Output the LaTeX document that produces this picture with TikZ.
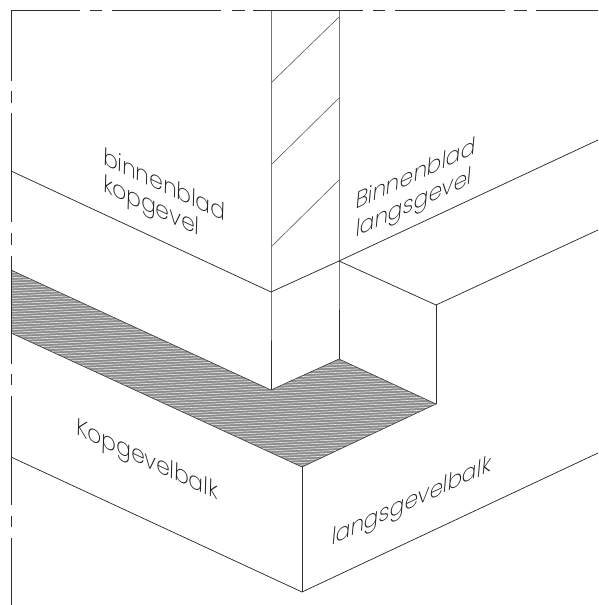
\documentclass[tikz,border=0pt]{standalone}
\usepackage{fontspec}
\setmainfont{Poppins ExtraLight}
\definecolor{ink}{gray}{0.18}
\definecolor{txt}{gray}{0.12}
\tikzset{
  edge/.style={draw=ink,line width=0.75pt},
  wallhatch/.style={draw=ink!75,line width=0.65pt},
  fine/.style={draw=ink,line width=0.55pt},
  lbl/.style={text=txt,inner sep=0pt,font=\fontsize{24}{26}\selectfont,anchor=base west},
  down/.style={lbl,cm={0.906,-0.423,0.03,1,(0,0)}},
  up/.style={lbl,cm={0.906,0.423,0.09,1,(0,0)}}
}
\begin{document}
\begin{tikzpicture}[x=1pt,y=-1pt]
\useasboundingbox (0,0) rectangle (598,605);
\fill[white] (0,0) rectangle (598,605);
% corner points
\coordinate (tl) at (11,10);
\coordinate (la) at (11,171);
\coordinate (lb) at (11,270);
\coordinate (lc) at (11,333);
\coordinate (ld) at (11,457);
\coordinate (c1t) at (271,10);
\coordinate (c1) at (271,292);
\coordinate (c1b) at (271,390);
\coordinate (c2t) at (339,10);
\coordinate (c2) at (339,261);
\coordinate (c2b) at (339,359);
\coordinate (st) at (436,305);
\coordinate (sb) at (436,404);
\coordinate (ft) at (302,467);
\coordinate (fb) at (302,592);
\coordinate (r1) at (598,140);
\coordinate (r2) at (598,230);
\coordinate (r3) at (598,453);
% dark floor hatch
\begin{scope}
\clip (lb) -- (c1b) -- (c2b) -- (sb) -- (ft) -- (lc) -- cycle;
\fill[white!55!black] (0,260) rectangle (450,480);
\foreach \k in {0,2.6,...,240}{
  \draw[white!95!black,line width=0.55pt] (0,260+\k) -- (450,260+\k-20);
}
\end{scope}
\draw[fine] (lb) -- (c1b) -- (c2b) -- (sb) -- (ft) -- (lc);
% outer chain lines
\draw[edge,dash pattern=on 69pt off 10pt on 12pt off 10pt on 109pt off 11pt on 13pt off 8pt on 110pt off 10pt on 12pt off 10pt on 110pt off 9pt on 13pt off 9pt on 70pt] (tl) -- (598,10);
\draw[edge,dash pattern=on 71pt off 10pt on 12pt off 10pt on 109pt off 11pt on 12pt off 11pt on 108pt off 10pt on 11pt off 11pt on 109pt off 11pt on 11pt off 11pt on 70pt] (tl) -- (11,605);
% wall
\draw[edge] (c1t) -- (c1) -- (c1b);
\draw[edge] (c2t) -- (c2) -- (c2b);
\draw[edge] (la) -- (c1) -- (c2) -- (r1);
\draw[edge] (c2) -- (st) -- (r2);
\draw[edge] (st) -- (sb);
\draw[edge] (ld) -- (fb) -- (r3);
\draw[edge] (ft) -- (fb);
% wall section hatch
\draw[wallhatch] (271,83) -- (339,17);
\draw[wallhatch] (271,165) -- (339,98);
\draw[wallhatch] (271,247) -- (339,180);
% labels
\node[down] (t1) at (103,164) {binnenblad};
\node[down] (t2) at (103,191) {kopgevel};
\node[up] (t3) at (355,210) {Binnenblad};
\node[up] (t4) at (355,238) {langsgevel};
\node[down] (t5) at (76,434) {Kopgevelbalk};
\node[up] (t6) at (331,546) {langsgevelbalk};
\end{tikzpicture}
\end{document}
